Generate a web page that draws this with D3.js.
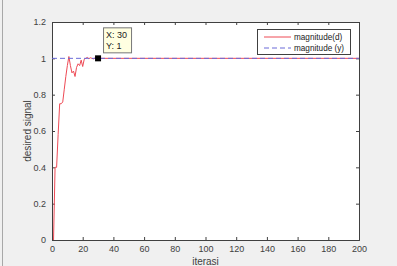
<!DOCTYPE html>
<html>
<head>
<meta charset="utf-8">
<script src="https://cdn.jsdelivr.net/npm/d3@7"></script>
<style>
  body { margin: 0; background: #f0f0f0; }
  svg { display: block; font-family: "Liberation Sans", Arial, sans-serif; }
</style>
</head>
<body>
<div id="chart"></div>
<script>
// magnitude(d): iteration / value pairs
var iterD = [1, 2, 3, 4, 5, 6, 7, 8, 9, 10, 11, 12, 13, 14, 15, 16, 17, 18, 19, 20,
             21, 22, 23, 24, 25, 26, 27, 28, 29, 30, 200];
var magD = [0, 0.40, 0.40, 0.58, 0.75, 0.75, 0.76, 0.83, 0.90, 0.96, 1.01, 0.96, 0.92, 0.93, 0.90, 0.95, 0.97, 0.96, 0.99, 0.955,
            0.995, 1.0, 1.005, 0.998, 1.003, 1.0, 0.997, 1.002, 1.0, 1.0, 1.0];
// magnitude (y)
var iterY = [0, 200];
var magY = [1, 1];
var xTicks = [0, 20, 40, 60, 80, 100, 120, 140, 160, 180, 200];
var yTicks = [0, 0.2, 0.4, 0.6, 0.8, 1, 1.2];
var legendLabels = ["magnitude(d)", "magnitude (y)"];
var tipPoint = { x: 30, y: 1 };

var width = 397, height = 266;
var margin = { top: 22, right: 38, bottom: 26, left: 52 };
var w = width - margin.left - margin.right;
var h = height - margin.top - margin.bottom;

var svg = d3.select("#chart").append("svg")
    .attr("width", width)
    .attr("height", height);

svg.append("rect").attr("width", width).attr("height", height).attr("fill", "#f0f0f0");
svg.append("line").attr("x1", 2.5).attr("x2", 2.5).attr("y1", 0).attr("y2", height)
    .attr("stroke", "#a8a8a8");

var g = svg.append("g").attr("transform", "translate(" + margin.left + "," + margin.top + ")");

var x = d3.scaleLinear().domain([0, 200]).range([0, w]);
var y = d3.scaleLinear().domain([0, 1.2]).range([h, 0]);

g.append("rect").attr("width", w).attr("height", h).attr("fill", "#fff");

function styleAxis(sel) {
    sel.selectAll("path").attr("stroke", "#404040");
    sel.selectAll("line").attr("stroke", "#404040");
    sel.selectAll("text").attr("fill", "#404040").attr("font-size", "9px");
}

g.append("g").attr("transform", "translate(0," + h + ")")
    .call(d3.axisBottom(x).tickValues(xTicks).tickSize(-3).tickPadding(6))
    .call(styleAxis);
g.append("g")
    .call(d3.axisLeft(y).tickValues(yTicks).tickSize(-3).tickPadding(6).tickFormat(d3.format("")))
    .call(styleAxis);
g.append("g")
    .call(d3.axisTop(x).tickValues(xTicks).tickSize(-3).tickFormat(""))
    .call(styleAxis);
g.append("g").attr("transform", "translate(" + w + ",0)")
    .call(d3.axisRight(y).tickValues(yTicks).tickSize(-3).tickFormat(""))
    .call(styleAxis);

var lineD = d3.line()
    .x(function (d, i) { return x(iterD[i]); })
    .y(function (d) { return y(d); });
var lineY = d3.line()
    .x(function (d, i) { return x(iterY[i]); })
    .y(function (d) { return y(d); });

g.append("path").datum(magD)
    .attr("d", lineD)
    .attr("fill", "none")
    .attr("stroke", "#ee4a55")
    .attr("stroke-width", 1);
g.append("path").datum(magY)
    .attr("d", lineY)
    .attr("fill", "none")
    .attr("stroke", "#6a6ad8")
    .attr("stroke-width", 1)
    .attr("stroke-dasharray", "5,3");

// data tip
g.append("rect")
    .attr("x", x(tipPoint.x) - 3).attr("y", y(tipPoint.y) - 3)
    .attr("width", 6).attr("height", 6)
    .attr("fill", "#000");
var tip = g.append("g").attr("transform", "translate(" + (x(tipPoint.x) + 5) + "," + (y(tipPoint.y) - 31) + ")");
tip.append("rect").attr("x", 0.5).attr("y", 0.5).attr("width", 28).attr("height", 25)
    .attr("fill", "#ffffe1").attr("stroke", "#777");
tip.append("text").attr("x", 3).attr("y", 11).attr("font-size", "9px").attr("fill", "#222")
    .text("X: " + tipPoint.x);
tip.append("text").attr("x", 3).attr("y", 22).attr("font-size", "9px").attr("fill", "#222")
    .text("Y: " + tipPoint.y);

// legend
var leg = g.append("g").attr("transform", "translate(" + (w - 102) + ",7)");
leg.append("rect").attr("x", 0.5).attr("y", 0.5).attr("width", 93).attr("height", 25)
    .attr("fill", "#fff").attr("stroke", "#404040");
var legStyles = [{ c: "#ee4a55", dash: null }, { c: "#6a6ad8", dash: "5,3" }];
legendLabels.forEach(function (lab, i) {
    var ly = 8 + i * 11;
    leg.append("line").attr("x1", 7).attr("x2", 34).attr("y1", ly).attr("y2", ly)
        .attr("stroke", legStyles[i].c).attr("stroke-dasharray", legStyles[i].dash);
    leg.append("text").attr("x", 37).attr("y", ly + 3).attr("font-size", "8.2px")
        .attr("fill", "#222").text(lab);
});

// axis labels
g.append("text").attr("x", w / 2).attr("y", h + 25)
    .attr("text-anchor", "middle").attr("font-size", "10px").attr("fill", "#404040")
    .text("iterasi");
g.append("text").attr("transform", "translate(-21," + (h / 2) + ") rotate(-90)")
    .attr("text-anchor", "middle").attr("font-size", "10px").attr("fill", "#404040")
    .text("desired signal");
</script>
</body>
</html>
